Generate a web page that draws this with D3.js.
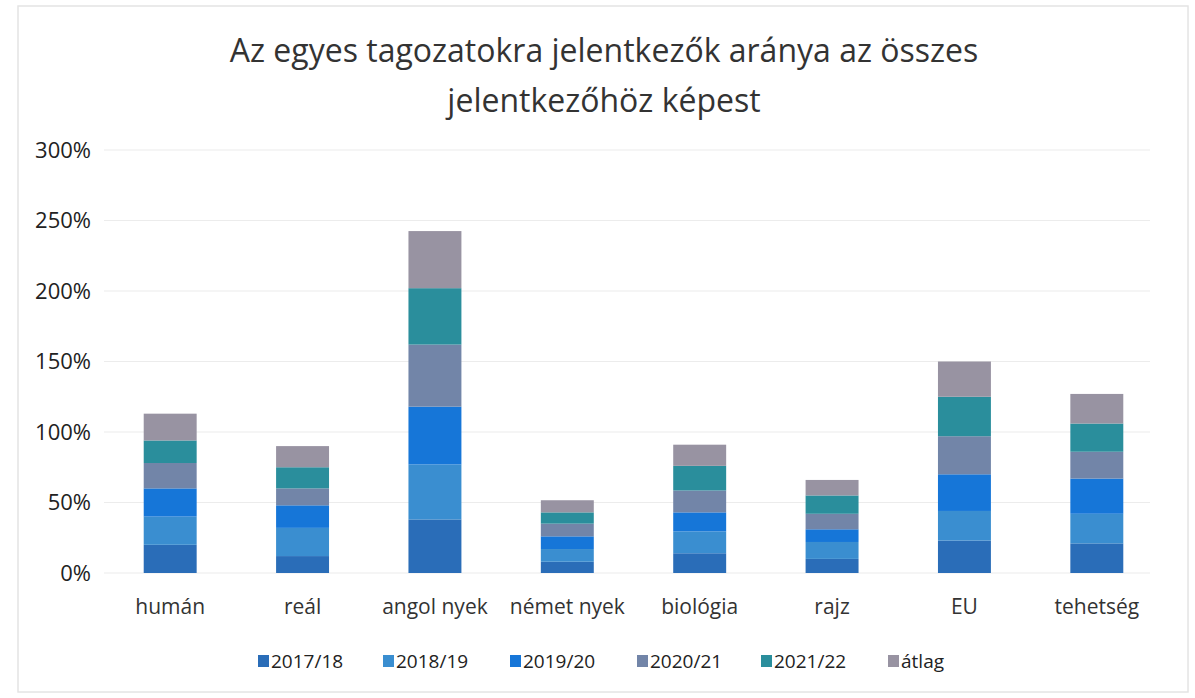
<!DOCTYPE html>
<html><head><meta charset="utf-8">
<script src="https://cdn.jsdelivr.net/npm/d3@7"></script>
<style>body{margin:0;background:#fff}svg{display:block}</style>
</head><body><svg id="c" width="1195" height="698"></svg>
<script>
const categories = ["humán","reál","angol nyek","német nyek","biológia","rajz","EU","tehetség"];
const seriesNames = ["2017/18","2018/19","2019/20","2020/21","2021/22","átlag"];
const s2017 = [20, 12, 38, 8, 14, 10, 23, 21];
const s2018 = [20, 20, 39, 9, 15.5, 12, 21, 21];
const s2019 = [20, 16, 41, 9, 13.5, 9, 26, 25];
const s2020 = [18, 12, 44, 9, 15.5, 11, 27, 19];
const s2021 = [16, 15, 40, 8, 17.5, 13, 28, 20];
const sAvg  = [19, 15, 40.5, 8.6, 15, 11, 25, 21];
const yTicks = [0, 50, 100, 150, 200, 250, 300];
const colors = ["#2a6db8","#3a8ed0","#1676d8","#7285a8","#2a8e9c","#9893a2"];

const allSeries = [s2017, s2018, s2019, s2020, s2021, sAvg];
const rows = categories.map((c, i) => {
  const r = {cat: c};
  seriesNames.forEach((s, j) => r[s] = allSeries[j][i]);
  return r;
});
const stack = d3.stack().keys(seriesNames)(rows);

const svg = d3.select("#c");
const font = "'Open Sans', 'Liberation Sans', sans-serif";

// faint frame
svg.append("rect").attr("x", 18).attr("y", 6).attr("width", 1170).attr("height", 686)
  .attr("fill", "none").attr("stroke", "#e4e4e4").attr("stroke-width", 1.5);

const x = d3.scaleBand().domain(categories).range([104, 1163]).paddingInner(0.6).paddingOuter(0.3);
const y = d3.scaleLinear().domain([0, 300]).range([573, 150]);

// gridlines
svg.append("g").selectAll("line").data(yTicks).join("line")
  .attr("x1", 104).attr("x2", 1150)
  .attr("y1", d => y(d)).attr("y2", d => y(d))
  .attr("stroke", "#ececec").attr("stroke-width", 1.2);

// y axis labels
const yAxis = d3.axisLeft(y).tickValues(yTicks).tickFormat(d => d + "%").tickSize(0).tickPadding(0);
const gy = svg.append("g").attr("transform", "translate(91,0)").call(yAxis);
gy.select(".domain").remove();
gy.selectAll("text").attr("font-family", font).attr("font-size", 22).attr("fill", "#222");

// bars
svg.append("g").selectAll("g").data(stack).join("g")
  .attr("fill", (d, i) => colors[i])
  .selectAll("rect").data(d => d).join("rect")
  .attr("x", d => x(d.data.cat))
  .attr("width", x.bandwidth())
  .attr("y", d => y(d[1]))
  .attr("height", d => y(d[0]) - y(d[1]));

// x axis labels
const xAxis = d3.axisBottom(x).tickSize(0).tickPadding(0);
const gx = svg.append("g").attr("transform", "translate(0,595)").call(xAxis);
gx.select(".domain").remove();
gx.selectAll("text").attr("font-family", font).attr("font-size", 21).attr("fill", "#333")
  .attr("dy", "0.9em");

// title
const title = svg.append("text").attr("x", 604).attr("text-anchor", "middle")
  .attr("font-family", font).attr("font-size", 32).attr("fill", "#333");
title.append("tspan").attr("x", 604).attr("y", 62).text("Az egyes tagozatokra jelentkezők aránya az összes");
title.append("tspan").attr("x", 604).attr("y", 112).text("jelentkezőhöz képest");

// legend
const legendX = [258, 383, 510, 637, 761, 888];
const lg = svg.append("g").selectAll("g").data(seriesNames).join("g")
  .attr("transform", (d, i) => `translate(${legendX[i]},661)`);
lg.append("rect").attr("x", 0).attr("y", -6).attr("width", 11).attr("height", 12)
  .attr("fill", (d, i) => colors[i]);
lg.append("text").attr("x", 13).attr("y", 0).attr("dy", "0.35em")
  .attr("font-family", font).attr("font-size", 19).attr("fill", "#222").text(d => d);
</script></body></html>
